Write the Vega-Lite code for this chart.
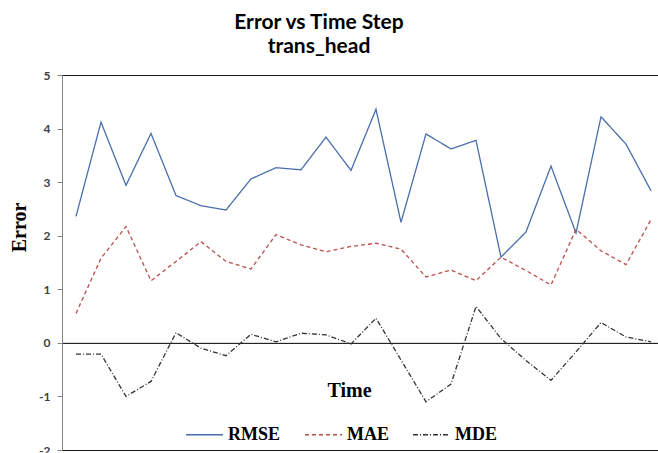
{
  "$schema": "https://vega.github.io/schema/vega-lite/v6.json",
  "width": 596,
  "height": 375,
  "autosize": {"type": "none"},
  "padding": {"left": 62, "top": 75, "right": 0, "bottom": 3},
  "background": "white",
  "config": {
    "view": {"stroke": "#1a1a1a", "strokeWidth": 1},
    "legend": {
      "symbolType": "stroke",
      "symbolSize": 1369,
      "symbolStrokeWidth": 1.4,
      "labelFont": "Liberation Serif",
      "labelFontSize": 18,
      "labelFontWeight": "bold",
      "labelColor": "black",
      "labelOffset": 4,
      "columnPadding": 21,
      "labelLimit": 200
    }
  },
  "title": {
    "text": ["Error vs Time Step", "trans_head"],
    "font": "Lato",
    "fontSize": 21,
    "fontWeight": "bold",
    "color": "black",
    "anchor": "middle",
    "dx": -41,
    "lineHeight": 24,
    "offset": 12
  },
  "data": {
    "values": [
      {"t": 1, "metric": "RMSE", "value": 2.36},
      {"t": 2, "metric": "RMSE", "value": 4.12},
      {"t": 3, "metric": "RMSE", "value": 2.94},
      {"t": 4, "metric": "RMSE", "value": 3.91},
      {"t": 5, "metric": "RMSE", "value": 2.75},
      {"t": 6, "metric": "RMSE", "value": 2.56},
      {"t": 7, "metric": "RMSE", "value": 2.48},
      {"t": 8, "metric": "RMSE", "value": 3.06},
      {"t": 9, "metric": "RMSE", "value": 3.27},
      {"t": 10, "metric": "RMSE", "value": 3.23},
      {"t": 11, "metric": "RMSE", "value": 3.84},
      {"t": 12, "metric": "RMSE", "value": 3.22},
      {"t": 13, "metric": "RMSE", "value": 4.36},
      {"t": 14, "metric": "RMSE", "value": 2.25},
      {"t": 15, "metric": "RMSE", "value": 3.90},
      {"t": 16, "metric": "RMSE", "value": 3.62},
      {"t": 17, "metric": "RMSE", "value": 3.78},
      {"t": 18, "metric": "RMSE", "value": 1.60},
      {"t": 19, "metric": "RMSE", "value": 2.07},
      {"t": 20, "metric": "RMSE", "value": 3.30},
      {"t": 21, "metric": "RMSE", "value": 2.05},
      {"t": 22, "metric": "RMSE", "value": 4.22},
      {"t": 23, "metric": "RMSE", "value": 3.71},
      {"t": 24, "metric": "RMSE", "value": 2.84},
      {"t": 1, "metric": "MAE", "value": 0.55},
      {"t": 2, "metric": "MAE", "value": 1.58},
      {"t": 3, "metric": "MAE", "value": 2.17},
      {"t": 4, "metric": "MAE", "value": 1.16},
      {"t": 5, "metric": "MAE", "value": 1.52},
      {"t": 6, "metric": "MAE", "value": 1.89},
      {"t": 7, "metric": "MAE", "value": 1.52},
      {"t": 8, "metric": "MAE", "value": 1.38},
      {"t": 9, "metric": "MAE", "value": 2.02},
      {"t": 10, "metric": "MAE", "value": 1.83},
      {"t": 11, "metric": "MAE", "value": 1.70},
      {"t": 12, "metric": "MAE", "value": 1.80},
      {"t": 13, "metric": "MAE", "value": 1.86},
      {"t": 14, "metric": "MAE", "value": 1.75},
      {"t": 15, "metric": "MAE", "value": 1.23},
      {"t": 16, "metric": "MAE", "value": 1.36},
      {"t": 17, "metric": "MAE", "value": 1.16},
      {"t": 18, "metric": "MAE", "value": 1.60},
      {"t": 19, "metric": "MAE", "value": 1.35},
      {"t": 20, "metric": "MAE", "value": 1.08},
      {"t": 21, "metric": "MAE", "value": 2.12},
      {"t": 22, "metric": "MAE", "value": 1.72},
      {"t": 23, "metric": "MAE", "value": 1.46},
      {"t": 24, "metric": "MAE", "value": 2.30},
      {"t": 1, "metric": "MDE", "value": -0.21},
      {"t": 2, "metric": "MDE", "value": -0.21},
      {"t": 3, "metric": "MDE", "value": -1.00},
      {"t": 4, "metric": "MDE", "value": -0.72},
      {"t": 5, "metric": "MDE", "value": 0.19},
      {"t": 6, "metric": "MDE", "value": -0.10},
      {"t": 7, "metric": "MDE", "value": -0.24},
      {"t": 8, "metric": "MDE", "value": 0.16},
      {"t": 9, "metric": "MDE", "value": 0.02},
      {"t": 10, "metric": "MDE", "value": 0.18},
      {"t": 11, "metric": "MDE", "value": 0.15},
      {"t": 12, "metric": "MDE", "value": -0.02},
      {"t": 13, "metric": "MDE", "value": 0.46},
      {"t": 14, "metric": "MDE", "value": -0.32},
      {"t": 15, "metric": "MDE", "value": -1.10},
      {"t": 16, "metric": "MDE", "value": -0.77},
      {"t": 17, "metric": "MDE", "value": 0.68},
      {"t": 18, "metric": "MDE", "value": 0.08},
      {"t": 19, "metric": "MDE", "value": -0.33},
      {"t": 20, "metric": "MDE", "value": -0.70},
      {"t": 21, "metric": "MDE", "value": -0.17},
      {"t": 22, "metric": "MDE", "value": 0.38},
      {"t": 23, "metric": "MDE", "value": 0.11},
      {"t": 24, "metric": "MDE", "value": 0.02}
    ]
  },
  "mark": {"type": "line", "strokeWidth": 1.3},
  "encoding": {
    "x": {
      "field": "t",
      "type": "quantitative",
      "scale": {"domain": [0.44, 24.28], "nice": false, "zero": false},
      "axis": {
        "orient": "bottom",
        "offset": -107.14,
        "domainColor": "black",
        "domainWidth": 1,
        "ticks": false,
        "labels": false,
        "grid": false,
        "title": "Time",
        "titleFont": "Liberation Serif",
        "titleFontSize": 20,
        "titleFontWeight": "bold",
        "titleColor": "black",
        "titleBaseline": "alphabetic",
        "titleAlign": "center",
        "titleX": 287,
        "titleY": 54
      }
    },
    "y": {
      "field": "value",
      "type": "quantitative",
      "scale": {"domain": [-2, 5], "nice": false, "zero": false},
      "axis": {
        "values": [-2, -1, 0, 1, 2, 3, 4, 5],
        "labelExpr": "replace(datum.label, '\u2212', '-')",
        "grid": false,
        "domainColor": "#868686",
        "tickColor": "#868686",
        "tickSize": 5,
        "labelPadding": 7,
        "labelFont": "Lato",
        "labelFontSize": 12,
        "labelFontWeight": "bold",
        "labelColor": "#404040",
        "title": "Error",
        "titleFont": "Liberation Serif",
        "titleFontSize": 20,
        "titleFontWeight": "bold",
        "titleColor": "black",
        "titleAngle": -90,
        "titleAlign": "center",
        "titleBaseline": "middle",
        "titleX": -43,
        "titleY": 152
      }
    },
    "color": {
      "field": "metric",
      "type": "nominal",
      "scale": {"domain": ["RMSE", "MAE", "MDE"], "range": ["#4a6eab", "#b8504d", "#333333"]},
      "legend": {"orient": "none", "legendX": 123, "legendY": 340, "direction": "horizontal", "title": null}
    },
    "strokeDash": {
      "field": "metric",
      "type": "nominal",
      "scale": {"domain": ["RMSE", "MAE", "MDE"], "range": [[1, 0], [4, 3], [5, 2, 1, 2]]},
      "legend": {"orient": "none", "legendX": 123, "legendY": 340, "direction": "horizontal", "title": null}
    }
  }
}
